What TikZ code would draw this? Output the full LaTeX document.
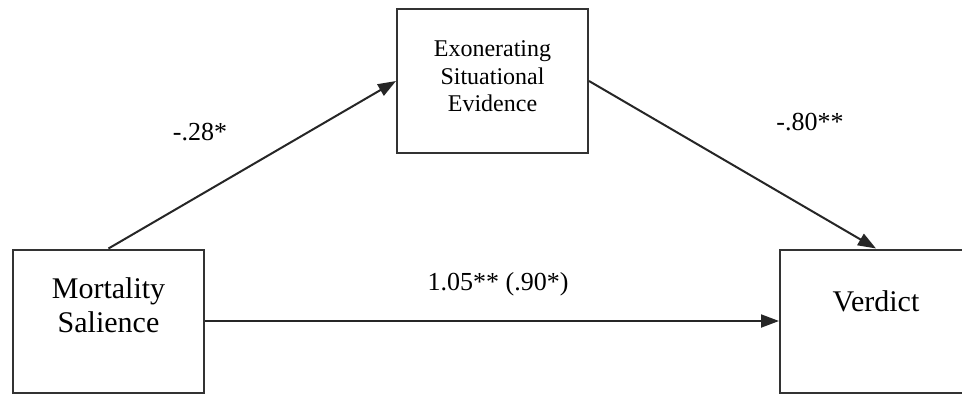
\documentclass[tikz,border=0pt]{standalone}
\usepackage{fontspec}
\setmainfont{Liberation Serif}
\usetikzlibrary{arrows.meta}
\begin{document}
\begin{tikzpicture}[x=1pt,y=-1pt,
  box/.style={draw=black!80, line width=2pt, rectangle, inner sep=0pt, fill=white},
  conn/.style={draw=black!85, line width=2pt, -{Triangle[length=18pt,width=13pt]}},
  lbl/.style={inner sep=0pt, font=\fontsize{26}{30}\selectfont, anchor=base},
  bigtxt/.style={inner sep=0pt, align=center, font=\fontsize{30}{34}\selectfont},
  smalltxt/.style={inner sep=0pt, align=center, font=\fontsize{24}{27.5}\selectfont}]
\useasboundingbox (0,0) rectangle (962,394);
\clip (0,0) rectangle (962,394);
\node[box, minimum width=191pt, minimum height=143pt] (ms) at (108.5,321) {};
\node[box, minimum width=191pt, minimum height=144pt] (ex) at (492.5,81) {};
\node[box, minimum width=192pt, minimum height=143pt] (vd) at (876,321) {};
\node[bigtxt] (mstext) at (108.5,305) {Mortality\\Salience};
\node[smalltxt] (extext) at (492.5,76.5) {Exonerating\\Situational\\Evidence};
\node[bigtxt, anchor=base] (vdtext) at (876,311) {Verdict};
\draw[conn] (ms.north) -- (ex.west);
\draw[conn] (ex.east) -- (vd.north);
\draw[conn] (ms.east) -- (vd.west);
\node[lbl] (la) at (200,140) {-.28*};
\node[lbl] (lb) at (810,130) {-.80**};
\node[lbl] (lc) at (498,290) {1.05** (.90*)};
\end{tikzpicture}
\end{document}
